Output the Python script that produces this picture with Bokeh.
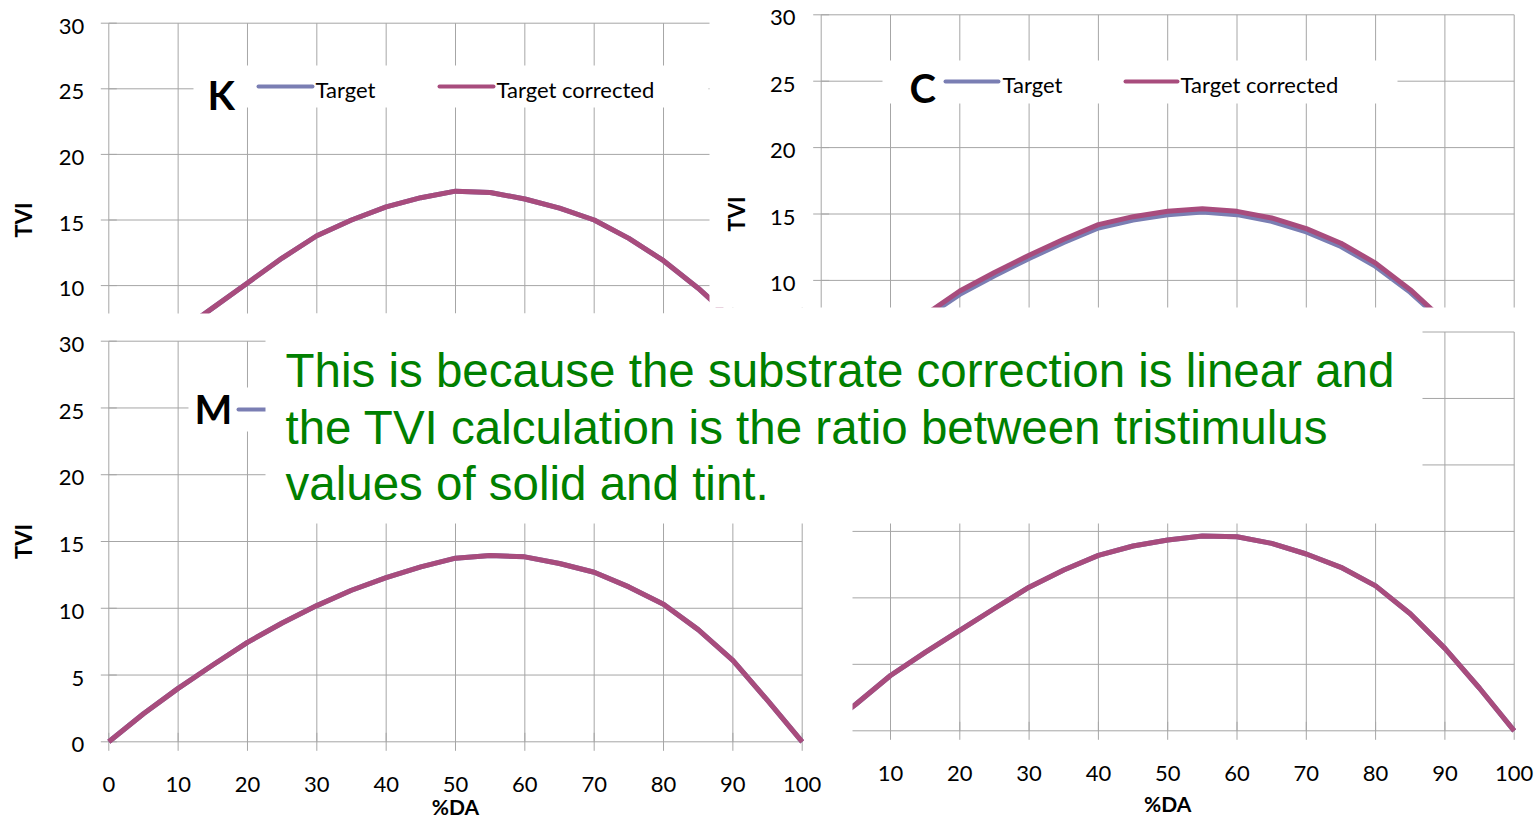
from math import pi
from bokeh.plotting import figure
from bokeh.models import Range1d, GlobalInlineStyleSheet
from bokeh.core.properties import value
from bokeh.embed import file_html
from bokeh.resources import INLINE

# ---------------- data ----------------
pct = [0, 5, 10, 15, 20, 25, 30, 35, 40, 45, 50, 55, 60, 65, 70, 75, 80, 85, 90, 95, 100]

k_target    = [0.0, 3.4, 6.4, 8.3, 10.2, 12.1, 13.8, 15.0, 16.0, 16.7, 17.2, 17.1, 16.6, 15.9, 15.0, 13.6, 11.9, 9.8, 7.4, 4.2, 0.0]
k_corrected = [0.0, 3.4, 6.4, 8.3, 10.2, 12.1, 13.8, 15.0, 16.0, 16.7, 17.2, 17.1, 16.6, 15.9, 15.0, 13.6, 11.9, 9.8, 7.4, 4.2, 0.0]

c_target    = [0.0, 2.7, 5.1, 7.2, 8.95, 10.35, 11.65, 12.85, 13.95, 14.55, 14.95, 15.15, 14.95, 14.45, 13.65, 12.55, 11.05, 9.1, 6.75, 3.7, 0.0]
c_corrected = [0.0, 2.8, 5.3, 7.4, 9.2, 10.6, 11.9, 13.1, 14.2, 14.8, 15.2, 15.4, 15.2, 14.7, 13.9, 12.8, 11.3, 9.3, 6.9, 3.8, 0.0]

m_target    = [0.0, 2.1, 4.0, 5.75, 7.45, 8.9, 10.2, 11.35, 12.3, 13.1, 13.75, 13.95, 13.85, 13.35, 12.7, 11.6, 10.3, 8.4, 6.1, 3.1, 0.0]
m_corrected = [0.0, 2.1, 4.0, 5.75, 7.45, 8.9, 10.2, 11.35, 12.3, 13.1, 13.75, 13.95, 13.85, 13.35, 12.7, 11.6, 10.3, 8.4, 6.1, 3.1, 0.0]

y_target    = [0.0, 2.0, 4.16, 5.9, 7.55, 9.2, 10.8, 12.1, 13.2, 13.9, 14.35, 14.65, 14.6, 14.1, 13.3, 12.3, 10.9, 8.8, 6.2, 3.2, 0.0]
y_corrected = [0.0, 2.0, 4.16, 5.9, 7.55, 9.2, 10.8, 12.1, 13.2, 13.9, 14.35, 14.65, 14.6, 14.1, 13.3, 12.3, 10.9, 8.8, 6.2, 3.2, 0.0]

x_ticks = [0, 10, 20, 30, 40, 50, 60, 70, 80, 90, 100]
x_tick_labels = ["0", "10", "20", "30", "40", "50", "60", "70", "80", "90", "100"]
y_ticks = [0, 5, 10, 15, 20, 25, 30]
y_tick_labels = ["0", "5", "10", "15", "20", "25", "30"]
legend_labels = ["Target", "Target corrected"]
chart_letters = ["K", "C", "M"]
x_title = "%DA"
y_title = "TVI"
note_lines = ["This is because the substrate correction is linear and",
              "the TVI calculation is the ratio between tristimulus",
              "values of solid and tint."]

# ---------------- styles ----------------
BLUE = "#7A7EB3"
MAGENTA = "#A84C7D"
GRID = "#A6A6A6"
FONT = value("Lato")
W, H = 1536, 819
X0, Y0 = 0, 0   # figure origin in window pixels

p = figure(width=W, height=H, x_range=Range1d(X0, X0 + W), y_range=Range1d(Y0 + H, Y0),
           output_backend="svg", toolbar_location=None, x_axis_type=None, y_axis_type=None,
           min_border=0, outline_line_color=None)
p.background_fill_color = "white"
p.border_fill_color = "white"
p.stylesheets = [GlobalInlineStyleSheet(css="html, body { overflow: hidden; margin: 0; }")]


def add_ranges(name, x0px, x100px, y0px, y30px):
    sx = (x100px - x0px) / 100.0
    sy = (y0px - y30px) / 30.0
    p.extra_x_ranges[name + "x"] = Range1d((X0 - x0px) / sx, (X0 + W - x0px) / sx)
    p.extra_y_ranges[name + "y"] = Range1d((y0px - (Y0 + H)) / sy, (y0px - Y0) / sy)
    return dict(x_range_name=name + "x", y_range_name=name + "y")


def white_box(left, right, top, bottom):
    p.quad(left=[left], right=[right], top=[top], bottom=[bottom],
           fill_color="white", line_color=None)


def grid(r):
    n, m = len(x_ticks), len(y_ticks)
    p.segment(x0=x_ticks, x1=x_ticks, y0=[y_ticks[0]] * n, y1=[y_ticks[-1]] * n,
              line_color=GRID, line_width=1, **r)
    p.segment(x0=[x_ticks[0]] * m, x1=[x_ticks[-1]] * m, y0=y_ticks, y1=y_ticks,
              line_color=GRID, line_width=1, **r)
    p.scatter(x=[x_ticks[0]] * m, y=y_ticks, marker="dash", size=16,
              line_color=GRID, line_width=1, **r)
    p.scatter(x=x_ticks, y=[y_ticks[0]] * n, marker="dash", size=18, angle=pi / 2,
              line_color=GRID, line_width=1, **r)


def y_labels(r, min_val, x_off=-25):
    sel = [(t, l) for t, l in zip(y_ticks, y_tick_labels) if t >= min_val]
    p.text(x=[x_ticks[0]] * len(sel), y=[t for t, _ in sel], text=[l for _, l in sel],
           text_align="right", text_baseline="middle", x_offset=x_off, y_offset=3.1,
           text_font=FONT, text_font_size="22px", text_color="black", **r)
    p.text(x=[x_ticks[0]], y=[(y_ticks[0] + y_ticks[-1]) / 2], text=[y_title], angle=pi / 2,
           x_offset=-85, text_align="center", text_baseline="middle",
           text_font=FONT, text_font_size="22px", text_font_style="bold", text_color="black", **r)


def x_labels(r, start_idx, y_off, title_off):
    xs = x_ticks[start_idx:]
    p.text(x=xs, y=[y_ticks[0]] * len(xs), text=x_tick_labels[start_idx:],
           text_align="center", text_baseline="middle", y_offset=y_off,
           text_font=FONT, text_font_size="22px", text_color="black", **r)
    p.text(x=[(x_ticks[0] + x_ticks[-1]) / 2], y=[y_ticks[0]], text=[x_title],
           text_align="center", text_baseline="middle", y_offset=title_off,
           text_font=FONT, text_font_size="21px", text_font_style="bold", text_color="black", **r)


def legend(box, letter, letter_pos, entries, show_text=True):
    white_box(*box)
    p.text(x=[letter_pos[0]], y=[letter_pos[1]], text=[letter], text_align="left",
           text_baseline="middle", text_font=FONT, text_font_size="40px",
           text_font_style="bold", text_color="black")
    for (lx0, lx1, ly, tx, tc), col, lab in zip(entries, [BLUE, MAGENTA], legend_labels):
        p.segment(x0=[lx0], x1=[lx1], y0=[ly], y1=[ly], line_color=col, line_width=4,
                  line_cap="round")
        if show_text:
            p.text(x=[tx], y=[tc], text=[lab], text_align="left", text_baseline="middle",
                   text_font=FONT, text_font_size="22px", text_color="black")


def series(r, tgt, cor):
    p.line(pct, tgt, line_color=BLUE, line_width=5, line_join="round", **r)
    p.line(pct, cor, line_color=MAGENTA, line_width=5, line_join="round", **r)


# ---------- K (top-left) ----------
rk = add_ranges("k", 108.3, 801.7, 416.3, 22.7)
grid(rk)
legend((193, 708, 65, 107), chart_letters[0], (207, 94),
       [(258, 312, 86, 315, 89), (439, 493, 86, 496, 89)])
series(rk, k_target, k_corrected)
y_labels(rk, 10, x_off=-24.5)

# ---------- C (top-right) ----------
white_box(709, X0 + W, Y0, 307)
rc = add_ranges("c", 820.7, 1513.7, 412.7, 14.3)
grid(rc)
legend((882, 1397, 60, 103), chart_letters[1], (909, 87),
       [(945, 998, 81, 1002, 83.5), (1125, 1177, 81, 1180, 83.5)])
series(rc, c_target, c_corrected)
y_labels(rc, 10, x_off=-25.7)

# ---------- Y (bottom-right) ----------
white_box(709, X0 + W, 307, Y0 + H)
ry = add_ranges("y", 820.7, 1513.7, 730.3, 331.5)
grid(ry)
series(ry, y_target, y_corrected)
x_labels(ry, 1, 42.7, 72.2)

# ---------- M (bottom-left) ----------
white_box(X0, 852, 313, Y0 + H)
rm = add_ranges("m", 108.3, 801.7, 741.3, 340.7)
grid(rm)
legend((188, 300, 387, 431), chart_letters[2], (194, 408),
       [(238, 292, 409, 295, 412), (420, 474, 409, 477, 412)], show_text=False)
series(rm, m_target, m_corrected)
y_labels(rm, 0, x_off=-24.5)
x_labels(rm, 0, 42.7, 64.7)

# ---------- note box ----------
white_box(265, 1422, 313, 523)
p.text(x=[285, 285, 285], y=[370, 427, 483], text=note_lines, text_align="left",
       text_baseline="middle", text_font=value("Liberation Sans"), text_font_size="47.5px",
       text_color="#008000")

open("out.html", "w").write(file_html(p, INLINE))
